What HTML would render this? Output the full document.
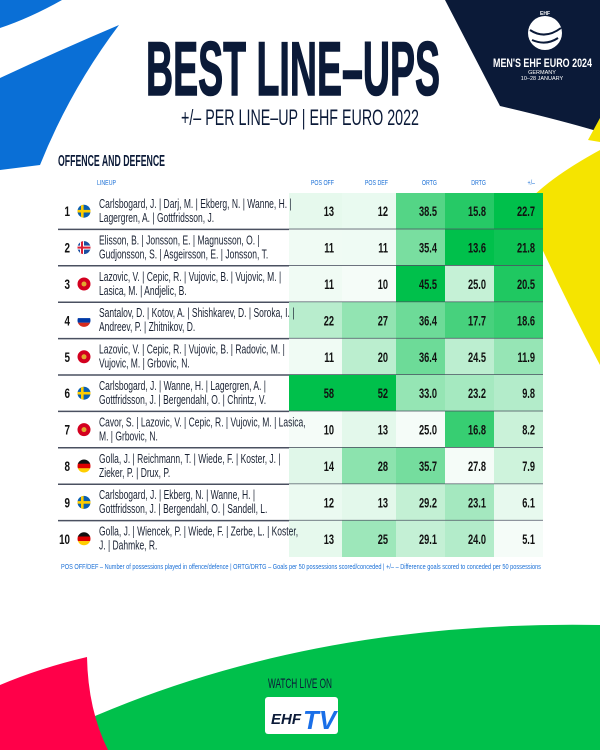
<!DOCTYPE html>
<html><head><meta charset="utf-8">
<style>
html,body{margin:0;padding:0;background:#fff;}
svg{display:block;}
.cond{font-family:"Liberation Sans Narrow","Liberation Sans",sans-serif;}
</style></head>
<body>
<svg id="chart" width="600" height="750" viewBox="0 0 600 750" xmlns="http://www.w3.org/2000/svg">
  <path d="M0,0 L62,0 Q30,18 0,28 Z" fill="#0a6fd6"/>
  <path d="M0,78 Q60,50 119,25 Q70,90 40,165 L0,170 Z" fill="#0a6fd6"/>
  <path d="M445,0 L600,0 L600,132 Q560,120 500,106 Z" fill="#0b1a38"/>
  <path d="M588,140 L600,118 L600,142 Z" fill="#f5e400"/>
  <path d="M600,150 Q545,180 523,207 Q560,290 600,365 Z" fill="#f5e400"/>
  <path d="M95,716 Q320,620 600,625 L600,750 L100,750 Z" fill="#00c04b"/>
  <path d="M0,685 Q40,668 87,657 Q88,710 108,750 L0,750 Z" fill="#ff0049"/>

  <g>
    <circle cx="545" cy="33" r="17" fill="#fff"/>
    <path d="M530,30 Q545,40 561,28 M532,40 Q546,46 558,38" stroke="#0b1a38" stroke-width="2" fill="none"/>
    <text x="545" y="15" font-size="5" fill="#fff" text-anchor="middle" class="cond" font-weight="bold">EHF</text>
    <text x="542.5" y="67" font-size="11.5" fill="#fff" text-anchor="middle" class="cond" font-weight="bold" textLength="99" lengthAdjust="spacingAndGlyphs">MEN'S EHF EURO 2024</text>
    <text x="542" y="74" font-size="5.5" fill="#fff" text-anchor="middle" class="cond">GERMANY</text>
    <text x="542" y="80" font-size="5.5" fill="#fff" text-anchor="middle" class="cond">10–28 JANUARY</text>
  </g>

  <text x="146" y="95" font-size="76" fill="#0b1a38" class="cond" font-weight="bold" textLength="294" lengthAdjust="spacingAndGlyphs" stroke="#0b1a38" stroke-width="1.5">BEST LINE–UPS</text>
  <text x="181" y="125" font-size="22" fill="#0b1a38" class="cond" textLength="238" lengthAdjust="spacingAndGlyphs">+/– PER LINE–UP | EHF EURO 2022</text>
  <text x="58" y="166" font-size="16" fill="#0b1a38" class="cond" font-weight="bold" textLength="107" lengthAdjust="spacingAndGlyphs">OFFENCE AND DEFENCE</text>

  <g id="table"></g>

  <text x="61" y="569" font-size="7.5" fill="#1a6fd6" class="cond" textLength="480" lengthAdjust="spacingAndGlyphs">POS OFF/DEF – Number of possessions played in offence/defence | ORTG/DRTG – Goals per 50 possessions scored/conceded | +/– – Difference goals scored to conceded per 50 possessions</text>

  <text x="300" y="688" font-size="14" fill="#0b1a38" class="cond" text-anchor="middle" textLength="64" lengthAdjust="spacingAndGlyphs">WATCH LIVE ON</text>
  <g>
    <rect x="265" y="697" width="73" height="37" rx="3" fill="#fff"/>
    <text x="271" y="724" font-size="15" font-weight="bold" fill="#0b1a38" font-style="italic" font-family="Liberation Sans, sans-serif">EHF</text>
    <text x="303" y="729" font-size="26" font-weight="bold" fill="#1a6fe8" font-style="italic" font-family="Liberation Sans, sans-serif">TV</text>
  </g>
</svg>
<script>
const ranks = [1,2,3,4,5,6,7,8,9,10];
const flags = ["SWE","ISL","MNE","RUS","MNE","SWE","MNE","GER","SWE","GER"];
const names1 = [
 "Carlsbogard, J. | Darj, M. | Ekberg, N. | Wanne, H. |",
 "Elisson, B. | Jonsson, E. | Magnusson, O. |",
 "Lazovic, V. | Cepic, R. | Vujovic, B. | Vujovic, M. |",
 "Santalov, D. | Kotov, A. | Shishkarev, D. | Soroka, I. |",
 "Lazovic, V. | Cepic, R. | Vujovic, B. | Radovic, M. |",
 "Carlsbogard, J. | Wanne, H. | Lagergren, A. |",
 "Cavor, S. | Lazovic, V. | Cepic, R. | Vujovic, M. | Lasica,",
 "Golla, J. | Reichmann, T. | Wiede, F. | Koster, J. |",
 "Carlsbogard, J. | Ekberg, N. | Wanne, H. |",
 "Golla, J. | Wiencek, P. | Wiede, F. | Zerbe, L. | Koster,"];
const names2 = [
 "Lagergren, A. | Gottfridsson, J.",
 "Gudjonsson, S. | Asgeirsson, E. | Jonsson, T.",
 "Lasica, M. | Andjelic, B.",
 "Andreev, P. | Zhitnikov, D.",
 "Vujovic, M. | Grbovic, N.",
 "Gottfridsson, J. | Bergendahl, O. | Chrintz, V.",
 "M. | Grbovic, N.",
 "Zieker, P. | Drux, P.",
 "Gottfridsson, J. | Bergendahl, O. | Sandell, L.",
 "J. | Dahmke, R."];
const posOff = [13,11,11,22,11,58,10,14,12,13];
const posDef = [12,11,10,27,20,52,13,28,13,25];
const ortg = [38.5,35.4,45.5,36.4,36.4,33.0,25.0,35.7,29.2,29.1];
const drtg = [15.8,13.6,25.0,17.7,24.5,23.2,16.8,27.8,23.1,24.0];
const plusMinus = [22.7,21.8,20.5,18.6,11.9,9.8,8.2,7.9,6.1,5.1];
const headers = ["POS OFF","POS DEF","ORTG","DRTG","+/–"];

const NS="http://www.w3.org/2000/svg";
const g=document.getElementById('table');
function el(tag,attrs,parent){const e=document.createElementNS(NS,tag);for(const k in attrs)e.setAttribute(k,attrs[k]);(parent||g).appendChild(e);return e;}
const colX=[289,342,396,445,494,543];
const top0=193, rowH=36.4;
function rowY(i){return top0+i*rowH;}
function shade(v,arr,invert){const mn=Math.min(...arr),mx=Math.max(...arr);let t=(v-mn)/(mx-mn);if(invert)t=1-t;
  const a=[255,255,255],b=[0,192,75];const c=a.map((x,k)=>Math.round(x+(b[k]-x)*(0.04+0.96*t)));return `rgb(${c[0]},${c[1]},${c[2]})`;}
function mkText(x,y,s,str,attrs,squeeze){const t=el('text',Object.assign({x:x,y:y,'font-size':s,'class':'cond'},attrs||{}));t.textContent=str;
  if(squeeze){const w=t.getComputedTextLength();t.setAttribute('textLength',(w*squeeze).toFixed(1));t.setAttribute('lengthAdjust','spacingAndGlyphs');}
  return t;}

const lh=mkText(97,185,7,"LINEUP",{fill:'#1a6fd6'},0.75);


headers.forEach((h,j)=>{
  const t=mkText(colX[j+1]-8,185,7,h,{fill:'#1a6fd6','text-anchor':'end'},0.75);
  
  
});

function drawFlag(code,cx,cy,id){
  const fg=el('g',{});
  
  
  const cp=el('clipPath',{id:'cf'+id},fg); el('circle',{cx:cx,cy:cy,r:6.5},cp);
  const cg=el('g',{'clip-path':`url(#cf${id})`},fg);
  const x0=cx-7,y0=cy-7;
  if(code==="SWE"){el('rect',{x:x0,y:y0,width:14,height:14,fill:'#0a5fb0'},cg);el('rect',{x:x0,y:cy-1.3,width:14,height:2.6,fill:'#fecc00'},cg);el('rect',{x:cx-3,y:y0,width:2.6,height:14,fill:'#fecc00'},cg);}
  else if(code==="ISL"){el('rect',{x:x0,y:y0,width:14,height:14,fill:'#1c4fa0'},cg);el('rect',{x:x0,y:cy-2,width:14,height:4,fill:'#fff'},cg);el('rect',{x:cx-4,y:y0,width:4,height:14,fill:'#fff'},cg);el('rect',{x:x0,y:cy-1,width:14,height:2,fill:'#dc1e35'},cg);el('rect',{x:cx-3,y:y0,width:2,height:14,fill:'#dc1e35'},cg);}
  else if(code==="MNE"){el('rect',{x:x0,y:y0,width:14,height:14,fill:'#d3001f'},cg);el('circle',{cx:cx,cy:cy,r:2.5,fill:'#e0a82e'},cg);}
  else if(code==="RUS"){el('rect',{x:x0,y:y0,width:14,height:5,fill:'#fff'},cg);el('rect',{x:x0,y:y0+4.7,width:14,height:4.7,fill:'#0039a6'},cg);el('rect',{x:x0,y:y0+9.3,width:14,height:5,fill:'#d52b1e'},cg);}
  else if(code==="GER"){el('rect',{x:x0,y:y0,width:14,height:5,fill:'#111'},cg);el('rect',{x:x0,y:y0+4.7,width:14,height:4.7,fill:'#dd0000'},cg);el('rect',{x:x0,y:y0+9.3,width:14,height:5,fill:'#ffce00'},cg);}
}

const cols=[posOff,posDef,ortg,drtg,plusMinus];
const inv=[false,false,false,true,false];
const colNames=['pos-off','pos-def','ortg','drtg','plus-minus'];
ranks.forEach((r,i)=>{
  const y=rowY(i);
  cols.forEach((arr,j)=>{
    const rc=el('rect',{x:colX[j],y:y,width:colX[j+1]-colX[j],height:rowH,fill:shade(arr[i],arr,inv[j])});
    
    
    const v=(j<2)?String(arr[i]):arr[i].toFixed(1);
    const t=mkText(colX[j+1]-8,y+rowH/2+5,14,v,{fill:'#111','text-anchor':'end','font-weight':'bold'},0.66);
    
    
  });
  const rk=mkText(70,y+rowH/2+5,14,String(r),{fill:'#111','text-anchor':'end','font-weight':'bold'},0.7);
  
  
  drawFlag(flags[i],84,y+rowH/2,i);
  const n1=mkText(99,y+15,12.5,names1[i],{fill:'#1a2233'},0.68);
  
  
  const n2=mkText(99,y+29,12.5,names2[i],{fill:'#1a2233'},0.68);
  
  
  if(i<ranks.length-1){
    const ln=el('line',{x1:58,x2:543,y1:y+rowH,y2:y+rowH,stroke:'#4a5060','stroke-width':1.5});
    
    
  }
});
</script>
</body></html>
